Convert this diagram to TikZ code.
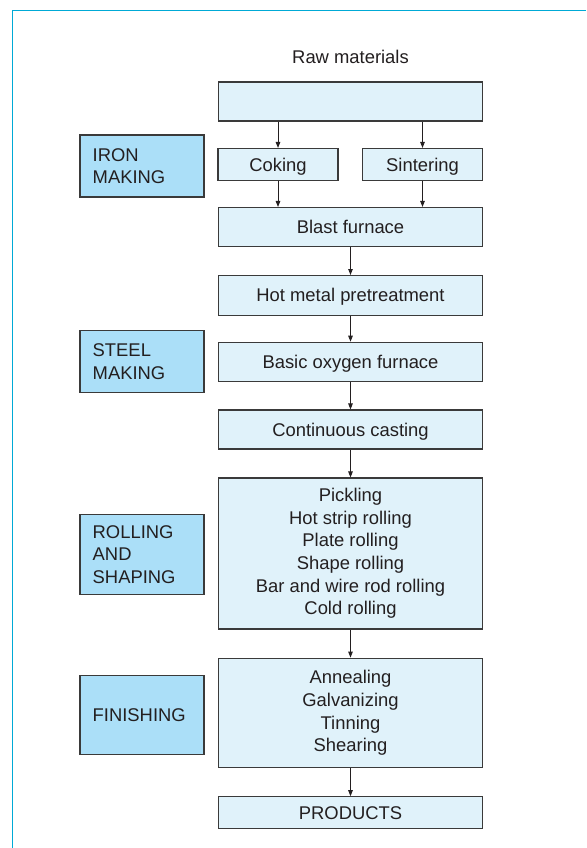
\documentclass[tikz,border=0pt]{standalone}
\usepackage{fontspec}
\setmainfont{Liberation Sans}
\usetikzlibrary{arrows.meta}
\definecolor{framecyan}{HTML}{00AAD6}
\definecolor{procfill}{HTML}{E0F2FA}
\definecolor{stagefill}{HTML}{ABDFF8}
\definecolor{edgegray}{HTML}{3A3A3A}
\definecolor{inkgray}{HTML}{231F20}
\begin{document}
\begin{tikzpicture}[x=1pt,y=-1pt,
  font=\fontsize{18.4}{22.6}\selectfont,
  every node/.style={text=inkgray},
  oneline/.style={text height=13.2pt,text depth=0pt},
  procbox/.style={draw=edgegray,line width=1.1pt,fill=procfill,
    minimum width=264pt,inner sep=0pt,align=center},
  stagebox/.style={draw=edgegray,line width=1.1pt,fill=stagefill,
    minimum width=124pt,inner xsep=12.7pt,inner ysep=0pt,
    text width=98.6pt,align=left},
  flow/.style={draw=inkgray,line width=0.9pt,
    -{Triangle[length=6pt,width=4.5pt]}}]
\useasboundingbox (0,0) rectangle (586,848);
\fill[white] (0,0) rectangle (586,848);

% frame
\draw[framecyan,line width=1.4pt] (12.5,848) -- (12.5,10.5) -- (586,10.5);

% process chain
\node[oneline] (rawlabel) at (350.5,57) {Raw materials};
\node[procbox,minimum height=39pt] (raw) at (350.5,101.5) {};
\node[procbox,oneline,minimum width=120pt,minimum height=32pt] (coking) at (278,164.5) {Coking};
\node[procbox,oneline,minimum width=120pt,minimum height=32pt] (sinter) at (422.5,164.5) {Sintering};
\node[procbox,oneline,minimum height=39pt] (blast) at (350.5,227) {Blast furnace};
\node[procbox,oneline,minimum height=39.5pt] (hotmetal) at (350.5,295.3) {Hot metal pretreatment};
\node[procbox,oneline,minimum height=39.5pt] (bof) at (350.5,362) {Basic oxygen furnace};
\node[procbox,oneline,minimum height=39pt] (casting) at (350.5,429.5) {Continuous casting};
\node[procbox,minimum height=151pt] (rolling) at (350.5,553.5)
  {Pickling\\Hot strip rolling\\Plate rolling\\Shape rolling\\Bar and wire rod rolling\\Cold rolling};
\node[procbox,minimum height=109.7pt] (finish) at (350.5,713)
  {Annealing\\Galvanizing\\Tinning\\Shearing};
\node[procbox,oneline,minimum height=31.3pt] (products) at (350.5,812.4) {PRODUCTS};

% stage labels
\node[stagebox,minimum height=62pt] (ironstage) at (142,166) {IRON\\MAKING};
\node[stagebox,minimum height=62pt] (steelstage) at (142,361.7) {STEEL\\MAKING};
\node[stagebox,minimum height=80pt] (rollstage) at (142,554.3) {ROLLING\\AND\\SHAPING};
\node[stagebox,oneline,minimum height=79.3pt] (finstage) at (142,714.7) {FINISHING};

% connectors
\draw[flow] (raw.south -| coking) -- (coking.north);
\draw[flow] (raw.south -| sinter) -- (sinter.north);
\draw[flow] (coking.south) -- (coking.south |- blast.north);
\draw[flow] (sinter.south) -- (sinter.south |- blast.north);
\draw[flow] (blast) -- (hotmetal);
\draw[flow] (hotmetal) -- (bof);
\draw[flow] (bof) -- (casting);
\draw[flow] (casting) -- (rolling);
\draw[flow] (rolling) -- (finish);
\draw[flow] (finish) -- (products);
\end{tikzpicture}
\end{document}
